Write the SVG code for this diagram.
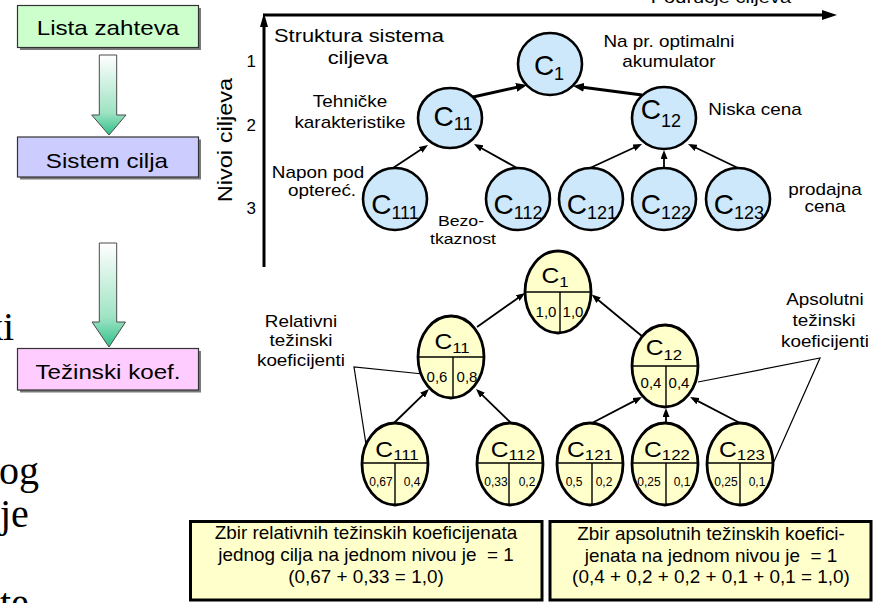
<svg xmlns="http://www.w3.org/2000/svg" width="875" height="603" viewBox="0 0 875 603">
<style>
text { font-family: "Liberation Sans", Arial, sans-serif; fill: #000; }
.serif { font-family: "Liberation Serif", "Times New Roman", serif; font-size: 40px; }
.m { text-anchor: middle; }
.e { text-anchor: end; }
.sx { transform-box: fill-box; transform-origin: center; transform: scaleX(1.18); }
.sb { transform-box: fill-box; transform-origin: center; transform: scaleX(1.08); }
.sc { transform-box: fill-box; transform-origin: center; transform: scaleX(1.12); }
.lb { font-size: 16px; }
.bx { font-size: 20.5px; }
.bt { font-size: 17.5px; }
.ct { font-size: 28px; }
.cs { font-size: 18px; }
.cb { font-size: 22px; }
.cbs { font-size: 15px; }
.v2 { font-size: 15px; }
.v3 { font-size: 12px; }
.blue { fill: #cce8fa; stroke: #000; stroke-width: 2.6; }
.yel { fill: #ffffcc; stroke: #000; stroke-width: 2.8; }
.dv { stroke: #000; stroke-width: 1.4; fill: none; }
.c1 { stroke: #000; stroke-width: 1.8; fill: none; marker-end: url(#ah); }
.c2 { stroke: #000; stroke-width: 3; fill: none; marker-end: url(#ahb); }
.ax { stroke: #000; stroke-width: 3; fill: none; }
.call { stroke: #000; stroke-width: 1.2; fill: none; }
.lbox { stroke: #333; stroke-width: 1.2; }
.shadow { fill: #7a7a7a; }
.garrow { fill: url(#grad); stroke: #4a4a4a; stroke-width: 1; }
.sbox { fill: #ffffcc; stroke: #000; stroke-width: 3; }
</style>
<defs>
<linearGradient id="grad" x1="0" y1="0" x2="0" y2="1">
<stop offset="0" stop-color="#ffffff"/>
<stop offset="0.72" stop-color="#9ee3c3"/>
<stop offset="1" stop-color="#2fbf88"/>
</linearGradient>
<marker id="ah" markerUnits="userSpaceOnUse" markerWidth="9" markerHeight="7" refX="6" refY="3.5" orient="auto">
<path d="M0,0 L9,3.5 L0,7 z" fill="#000"/>
</marker>
<marker id="ahb" markerUnits="userSpaceOnUse" markerWidth="11" markerHeight="9" refX="7" refY="4.5" orient="auto">
<path d="M0,0 L11,4.5 L0,9 z" fill="#000"/>
</marker>
<marker id="axh" markerUnits="userSpaceOnUse" markerWidth="15" markerHeight="10" refX="7" refY="5" orient="auto">
<path d="M0,0 L15,5 L0,10 z" fill="#000"/>
</marker>
<marker id="axv" markerUnits="userSpaceOnUse" markerWidth="14" markerHeight="8" refX="6" refY="4" orient="auto">
<path d="M0,0 L14,4 L0,8 z" fill="#000"/>
</marker>
</defs>

<!-- background partial slide text -->
<g id="slide-text">
<text class="serif" x="-17" y="340">ki</text>
<text class="serif" x="-1" y="484">og</text>
<text class="serif" x="0" y="527">je</text>
<text class="serif" x="0" y="616">te</text>
</g>

<!-- left process flow -->
<g id="lista-zahteva">
<rect class="shadow" x="20" y="8" width="181" height="42"/>
<rect class="lbox" x="17.5" y="5.5" width="181" height="42" fill="#ccffcc"/>
<text class="bx m sx" x="108" y="35.5">Lista zahteva</text>
</g>
<g id="sistem-cilja">
<rect class="shadow" x="20" y="139.5" width="181" height="40"/>
<rect class="lbox" x="17.5" y="137" width="181" height="40" fill="#ccccff"/>
<text class="bx m sx" x="107" y="168">Sistem cilja</text>
</g>
<g id="tezinski-koef">
<rect class="shadow" x="20" y="351" width="181" height="41.5"/>
<rect class="lbox" x="17.5" y="348.5" width="181" height="41.5" fill="#ffccff"/>
<text class="bx m sx" x="108" y="379">Težinski koef.</text>
</g>
<g id="flow-arrows">
<polygon class="garrow" points="99.3,55 116.7,55 116.7,115 126,115 109,135 91.7,115 99.3,115"/>
<polygon class="garrow" points="99.3,243 116.7,243 116.7,322 125.5,322 109,347 92,322 99.3,322"/>
</g>

<!-- axes -->
<g id="axes">
<line class="ax" x1="264" y1="267" x2="264" y2="21" marker-end="url(#axv)"/>
<line class="ax" x1="263" y1="15" x2="829" y2="15" marker-end="url(#axh)"/>
<text class="m sx" style="font-size:17px" x="721" y="3">Područje ciljeva</text>
<g transform="translate(232,140) rotate(-90)">
<text class="m sx" style="font-size:20px" x="0" y="0">Nivoi ciljeva</text>
</g>
<text class="e" style="font-size:17px" x="256" y="67">1</text>
<text class="e" style="font-size:17px" x="256" y="131">2</text>
<text class="e" style="font-size:17px" x="256" y="214">3</text>
</g>

<!-- top tree labels -->
<g id="top-labels">
<text class="m sx" style="font-size:18.5px" x="359" y="42">Struktura sistema</text>
<text class="m sx" style="font-size:18.5px" x="358" y="64">ciljeva</text>
<text class="lb m sx" x="669" y="47">Na pr. optimalni</text>
<text class="lb m sx" x="669" y="67">akumulator</text>
<text class="lb m sx" x="350" y="107">Tehničke</text>
<text class="lb m sx" x="350" y="128">karakteristike</text>
<text class="lb m sx" x="755" y="115">Niska cena</text>
<text class="lb m sx" x="318" y="178">Napon pod</text>
<text class="lb m sx" x="322" y="196">optereć.</text>
<text class="m sx" style="font-size:15px" x="461" y="226">Bezo-</text>
<text class="m sx" style="font-size:15px" x="463" y="244">tkaznost</text>
<text class="lb m sx" x="825" y="195">prodajna</text>
<text class="lb m sx" x="825" y="212">cena</text>
</g>

<!-- connectors -->
<g id="connectors">
<line class="c2" x1="473" y1="97" x2="523.1" y2="85.9"/>
<line class="c2" x1="642" y1="95" x2="577" y2="86.5"/>
<line class="c1" x1="393" y1="168" x2="425.5" y2="146.6"/>
<line class="c1" x1="517" y1="168" x2="476.6" y2="145.5"/>
<line class="c1" x1="590" y1="168" x2="639.3" y2="145.3"/>
<line class="c1" x1="664" y1="168" x2="664" y2="153"/>
<line class="c1" x1="738" y1="168" x2="690.7" y2="145.3"/>
<line class="c1" x1="477" y1="327" x2="522.6" y2="294.7"/>
<line class="c1" x1="643" y1="337" x2="594" y2="296.5"/>
<line class="c1" x1="394" y1="423" x2="426.8" y2="391.1"/>
<line class="c1" x1="511" y1="423" x2="478.2" y2="391.1"/>
<line class="c1" x1="592" y1="423" x2="639.3" y2="398.4"/>
<line class="c1" x1="666" y1="423" x2="666" y2="411"/>
<line class="c1" x1="740" y1="423" x2="692.7" y2="398.4"/>
<polyline class="call" points="423,374 354,367 370,470"/>
<polyline class="call" points="698,382 820,358 768,475"/>
</g>

<!-- top tree nodes -->
<g id="t-C1"><ellipse class="blue" cx="550" cy="64" rx="32" ry="31"/><text class="ct m" x="549" y="75">C<tspan class="cs" dy="5">1</tspan></text></g>
<g id="t-C11"><ellipse class="blue" cx="450" cy="118" rx="32" ry="30"/><text class="ct m" x="453" y="126">C<tspan class="cs" dy="4">11</tspan></text></g>
<g id="t-C12"><ellipse class="blue" cx="664" cy="118" rx="32" ry="31"/><text class="ct m" x="661" y="119">C<tspan class="cs" dy="8">12</tspan></text></g>
<g id="t-C111"><ellipse class="blue" cx="395" cy="199" rx="32" ry="31"/><text class="ct m" x="395" y="214">C<tspan class="cs" dy="5">111</tspan></text></g>
<g id="t-C112"><ellipse class="blue" cx="518" cy="199" rx="32" ry="31"/><text class="ct m" x="518" y="214">C<tspan class="cs" dy="5">112</tspan></text></g>
<g id="t-C121"><ellipse class="blue" cx="591" cy="199" rx="32" ry="31"/><text class="ct m" x="592" y="214">C<tspan class="cs" dy="5">121</tspan></text></g>
<g id="t-C122"><ellipse class="blue" cx="664" cy="199" rx="32" ry="31"/><text class="ct m" x="666" y="214">C<tspan class="cs" dy="5">122</tspan></text></g>
<g id="t-C123"><ellipse class="blue" cx="738" cy="199" rx="32" ry="31"/><text class="ct m" x="739" y="214">C<tspan class="cs" dy="5">123</tspan></text></g>

<!-- bottom tree nodes -->
<g id="b-C1">
<ellipse class="yel" cx="558" cy="292" rx="33" ry="41"/>
<line class="dv" x1="525" y1="292" x2="591" y2="292"/><line class="dv" x1="560" y1="292" x2="560" y2="333"/>
<text class="cb m sc" x="555" y="283">C<tspan class="cbs" dy="4">1</tspan></text>
<text class="v2 m" x="546" y="317">1,0</text><text class="v2 m" x="573" y="317">1,0</text>
</g>
<g id="b-C11">
<ellipse class="yel" cx="451" cy="357" rx="33" ry="41"/>
<line class="dv" x1="418" y1="357" x2="484" y2="357"/><line class="dv" x1="453" y1="357" x2="453" y2="398"/>
<text class="cb m sc" x="452" y="349">C<tspan class="cbs" dy="4">11</tspan></text>
<text class="v2 m" x="437" y="382">0,6</text><text class="v2 m" x="467" y="382">0,8</text>
</g>
<g id="b-C12">
<ellipse class="yel" cx="665" cy="366" rx="33" ry="41"/>
<line class="dv" x1="632" y1="366" x2="698" y2="366"/><line class="dv" x1="666" y1="366" x2="666" y2="407"/>
<text class="cb m sc" x="664" y="355">C<tspan class="cbs" dy="5">12</tspan></text>
<text class="v2 m" x="651" y="388">0,4</text><text class="v2 m" x="679" y="388">0,4</text>
</g>
<g id="b-C111">
<ellipse class="yel" cx="395" cy="464" rx="33" ry="41"/>
<line class="dv" x1="362" y1="463" x2="428" y2="463"/><line class="dv" x1="395" y1="463" x2="395" y2="505"/>
<text class="cb m sc" x="397" y="457">C<tspan class="cbs" dy="3">111</tspan></text>
<text class="v3 m" x="381" y="486">0,67</text><text class="v3 m" x="412" y="486">0,4</text>
</g>
<g id="b-C112">
<ellipse class="yel" cx="510" cy="464" rx="33" ry="41"/>
<line class="dv" x1="477" y1="463" x2="543" y2="463"/><line class="dv" x1="509" y1="463" x2="509" y2="505"/>
<text class="cb m sc" x="513" y="457">C<tspan class="cbs" dy="3">112</tspan></text>
<text class="v3 m" x="496" y="486">0,33</text><text class="v3 m" x="527" y="486">0,2</text>
</g>
<g id="b-C121">
<ellipse class="yel" cx="590" cy="464" rx="33" ry="41"/>
<line class="dv" x1="557" y1="463" x2="623" y2="463"/><line class="dv" x1="592" y1="463" x2="592" y2="505"/>
<text class="cb m sc" x="590" y="457">C<tspan class="cbs" dy="3">121</tspan></text>
<text class="v3 m" x="574" y="486">0,5</text><text class="v3 m" x="604" y="486">0,2</text>
</g>
<g id="b-C122">
<ellipse class="yel" cx="665" cy="464" rx="33" ry="41"/>
<line class="dv" x1="632" y1="463" x2="698" y2="463"/><line class="dv" x1="666" y1="463" x2="666" y2="505"/>
<text class="cb m sc" x="667" y="457">C<tspan class="cbs" dy="3">122</tspan></text>
<text class="v3 m" x="649" y="486">0,25</text><text class="v3 m" x="682" y="486">0,1</text>
</g>
<g id="b-C123">
<ellipse class="yel" cx="740" cy="464" rx="33" ry="41"/>
<line class="dv" x1="707" y1="463" x2="773" y2="463"/><line class="dv" x1="740" y1="463" x2="740" y2="505"/>
<text class="cb m sc" x="742" y="457">C<tspan class="cbs" dy="3">123</tspan></text>
<text class="v3 m" x="726" y="486">0,25</text><text class="v3 m" x="757" y="486">0,1</text>
</g>

<!-- callout labels -->
<g id="relativni">
<text class="lb m sx" x="301" y="327">Relativni</text>
<text class="lb m sx" x="301" y="346">težinski</text>
<text class="lb m sx" x="301" y="366">koeficijenti</text>
</g>
<g id="apsolutni">
<text class="lb m sx" x="825" y="305">Apsolutni</text>
<text class="lb m sx" x="824" y="326">težinski</text>
<text class="lb m sx" x="825" y="347">koeficijenti</text>
</g>

<!-- bottom notes -->
<g id="note-relativni">
<rect class="sbox" x="190.5" y="521.5" width="351.5" height="78.5"/>
<text class="bt m sb" x="366" y="539" xml:space="preserve">Zbir relativnih težinskih koeficijenata</text>
<text class="bt m sb" x="366" y="561" xml:space="preserve">jednog cilja na jednom nivou je  = 1</text>
<text class="bt m sb" x="366" y="583" xml:space="preserve">(0,67 + 0,33 = 1,0)</text>
</g>
<g id="note-apsolutni">
<rect class="sbox" x="550" y="521.5" width="321" height="78.5"/>
<text class="bt m sb" x="711" y="540" xml:space="preserve">Zbir apsolutnih težinskih koefici-</text>
<text class="bt m sb" x="711" y="562" xml:space="preserve">jenata na jednom nivou je  = 1</text>
<text class="bt m sb" x="711" y="583" xml:space="preserve">(0,4 + 0,2 + 0,2 + 0,1 + 0,1 = 1,0)</text>
</g>
</svg>
